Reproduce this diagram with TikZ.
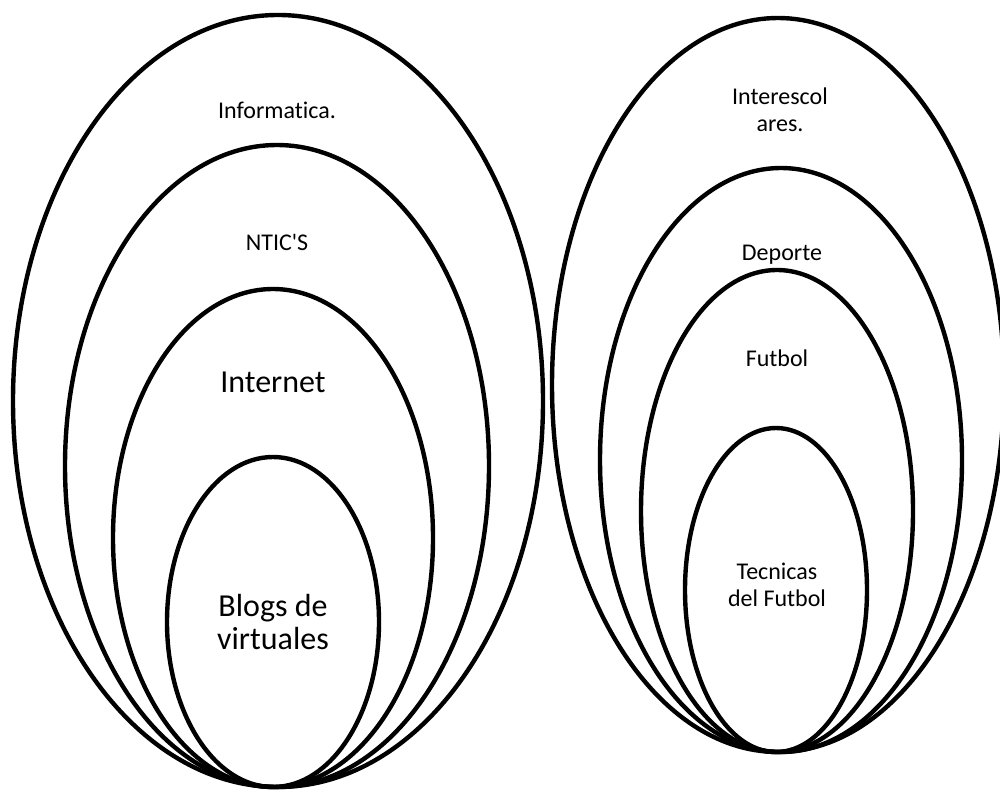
\documentclass[tikz,border=0pt]{standalone}
\usepackage{fontspec}
\setmainfont{Carlito}[Ligatures={NoCommon}]
\usetikzlibrary{positioning}
\tikzset{
  ring/.style={line width=2.2pt},
  lab/.style={align=center,font=\fontsize{12}{13.5}\selectfont},
  biglab/.style={align=center,font=\fontsize{16}{16.5}\selectfont}
}

\begin{document}
\begin{tikzpicture}[x=0.5pt,y=-0.5pt]
\useasboundingbox (0,0) rectangle (1000,792);
\draw[ring] (278,401) ellipse [x radius=265, y radius=386];
\draw[ring] (277,466) ellipse [x radius=212, y radius=321];
\draw[ring] (273,538) ellipse [x radius=160, y radius=249];
\draw[ring] (273,622) ellipse [x radius=106, y radius=165];
\draw[ring] (778,385) ellipse [x radius=226, y radius=367];
\draw[ring] (781,460) ellipse [x radius=181, y radius=292];
\draw[ring] (777,511) ellipse [x radius=136, y radius=241];
\draw[ring] (776,590) ellipse [x radius=91, y radius=162];
\node[lab] (informatica) at (277,110) {Informatica.};
\node[lab] (ntics) at (277,242) {NTIC\textquotesingle S};
\node[biglab] (internet) at (273,382) {Internet};
\node[biglab] (blogs) at (273,622) {Blogs de\\virtuales};
\node[lab] (interescolares) at (780,110) {Interescol\\ares.};
\node[lab] (deporte) at (782,255) {Deporte};
\node[lab] (futbol) at (777,358) {Futbol};
\node[lab] (tecnicas) at (777,585) {Tecnicas\\del Futbol};
\end{tikzpicture}
\end{document}
